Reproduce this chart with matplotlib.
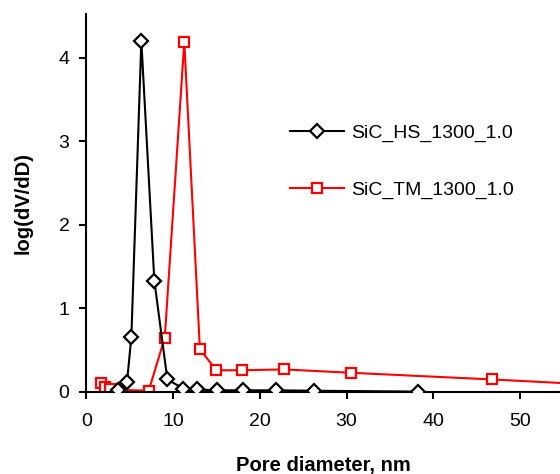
import matplotlib
matplotlib.use("Agg")
import matplotlib.pyplot as plt

plt.rcParams['font.family'] = ['Liberation Sans', 'DejaVu Sans']

# SiC_HS_1300_1.0
hs_d = [3.65, 4.7, 5.2, 6.35, 7.85, 9.35, 11.2, 12.75, 15.05, 18.1, 21.85, 26.2, 38.2]
hs_v = [0.02, 0.12, 0.66, 4.2, 1.33, 0.15, 0.04, 0.03, 0.02, 0.02, 0.02, 0.015, 0.005]

# SiC_TM_1300_1.0
tm_d = [1.7, 2.2, 2.7, 7.2, 9.05, 11.3, 13.1, 15.0, 17.9, 22.8, 30.5, 46.8, 58.0]
tm_v = [0.11, 0.06, 0.03, 0.015, 0.65, 4.19, 0.51, 0.26, 0.26, 0.27, 0.23, 0.15, 0.09]

fig = plt.figure(figsize=(5.6, 4.74), dpi=100)
ax = fig.add_axes([0.154, 0.173, 0.846, 0.797])

ax.plot(hs_d, hs_v, color='black', lw=1.5, marker='D', ms=7, mfc='white',
        mec='black', mew=1.6, label='SiC_HS_1300_1.0', zorder=3)
ax.plot(tm_d, tm_v, color='#ff0000', lw=1.5, marker='s', ms=7.5, mfc='white',
        mec='#ff0000', mew=1.6, label='SiC_TM_1300_1.0', zorder=2)

ax.set_xlim(0, 54.6)
ax.set_ylim(0, 4.52)
ax.set_xticks([0, 10, 20, 30, 40, 50])
ax.set_yticks([0, 1, 2, 3, 4])

for s in ['top', 'right']:
    ax.spines[s].set_visible(False)
for s in ['left', 'bottom']:
    ax.spines[s].set_linewidth(1.5)
ax.tick_params(direction='out', length=5, width=1.5, labelsize=14)
ax.tick_params(axis='x', pad=10)
ax.tick_params(axis='y', pad=7)

ax.set_xlabel('Pore diameter, nm', fontsize=14.5, fontweight='bold', labelpad=19)
ax.set_ylabel('log(dV/dD)', fontsize=14.5, fontweight='bold', labelpad=19)

ax.legend(loc='upper left', bbox_to_anchor=(0.413, 0.73), frameon=False,
          borderaxespad=0, fontsize=14, handlelength=2.8, labelspacing=2.05,
          handletextpad=0.36)

fig.savefig('out.png', dpi=100)
